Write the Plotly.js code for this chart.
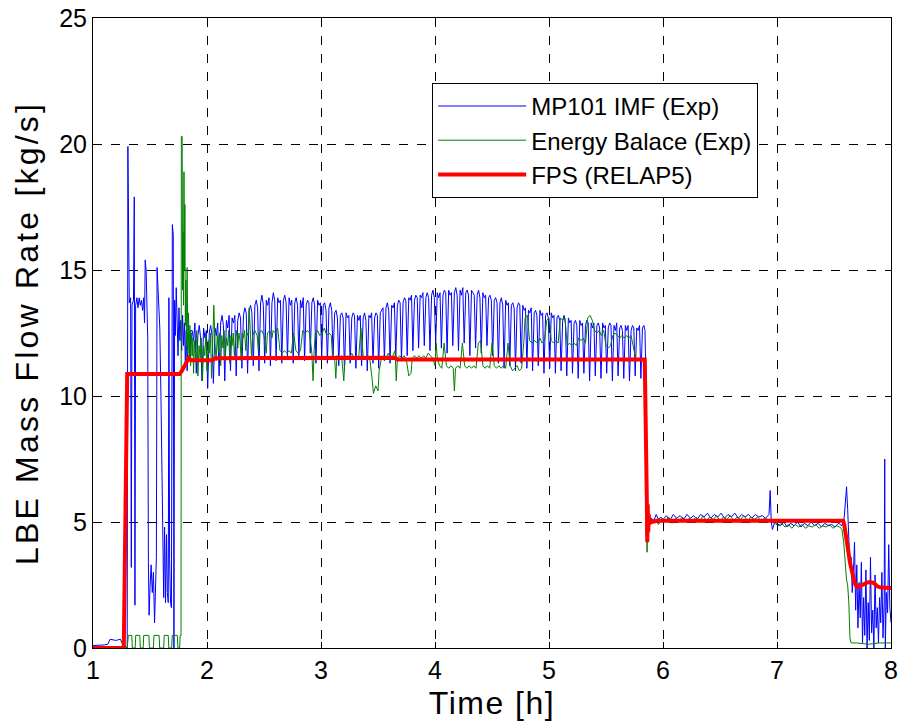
<!DOCTYPE html>
<html>
<head>
<meta charset="utf-8">
<script src="https://cdn.plot.ly/plotly-3.0.1.min.js"></script>
<style>
html,body{margin:0;padding:0;background:#fff;}
#chart{width:898px;height:724px;}
.ytitle{letter-spacing:3.2px;}
.xtitle{letter-spacing:1.5px;}
</style>
</head>
<body>
<div id="chart"></div>
<script>
// ---------- MP101 IMF (Exp) ----------
const blueStartT = [1.000,1.050,1.100,1.130,1.150,1.200,1.240,1.260,1.280,1.295];
const blueStartV = [0.1,0.1,0.12,0.15,0.35,0.3,0.35,0.15,0.1,0.0];

const blueRiseT = [1.300,1.306,1.312,1.318,1.330,1.336,1.342,1.355,1.362,1.368,
1.374,1.385,1.395,1.405,1.415,1.425,1.435,1.445,1.452,1.458,
1.466,1.474,1.480,1.486,1.492,1.500,1.510,1.520,1.530,1.540,
1.548,1.556,1.562,1.570,1.578,1.586,1.596,1.606,1.614,1.620,
1.628,1.636,1.645,1.652,1.660,1.666,1.672,1.680,1.688,1.696,
1.704,1.710,1.716,1.722,1.730,1.738,1.746,1.754,1.762,1.770,
1.778,1.786,1.794,1.802,1.810,1.818,1.826,1.834,1.842,1.850,1.858];
const blueRiseV = [0.0,19.9,15.0,13.7,13.9,3.2,13.6,13.8,17.9,1.7,
13.6,13.9,13.5,13.9,13.6,13.8,13.4,13.9,12.9,15.4,
15.0,12.5,12.3,3.4,1.3,2.4,3.3,2.2,3.0,1.0,
2.5,3.6,15.1,14.1,13.6,12.7,10.0,7.3,4.5,2.0,
4.8,1.8,4.5,2.2,1.8,13.9,3.5,1.8,1.6,16.8,
16.4,0.0,13.8,12.4,14.3,12.8,11.6,13.5,12.2,13.0,
11.8,13.2,12.0,12.9,11.3,12.6,11.0,12.5,12.3,11.4,12.6];

const bluePlateauT = [
1.870,1.882,1.894,1.906, 1.920,1.932,1.944,1.956, 1.970,1.982,1.994,2.006, 2.020,2.032,2.044,2.056, 2.070,2.082,2.094,2.106,
2.120,2.132,2.144,2.156, 2.170,2.182,2.194,2.206, 2.220,2.232,2.244,2.256, 2.270,2.282,2.294,2.306, 2.320,2.332,2.344,2.356,
2.370,2.382,2.394,2.406, 2.420,2.432,2.444,2.456, 2.470,2.482,2.494,2.506, 2.520,2.532,2.544,2.556, 2.570,2.582,2.594,2.606,
2.620,2.632,2.644,2.656, 2.670,2.682,2.694,2.706, 2.720,2.732,2.744,2.756, 2.770,2.782,2.794,2.806, 2.820,2.832,2.844,2.856,
2.870,2.882,2.894,2.906, 2.920,2.932,2.944,2.956, 2.970,2.982,2.994,3.006, 3.020,3.032,3.044,3.056, 3.070,3.082,3.094,3.106,
3.120,3.132,3.144,3.156, 3.170,3.182,3.194,3.206, 3.220,3.232,3.244,3.256, 3.270,3.282,3.294,3.306, 3.320,3.332,3.344,3.356,
3.370,3.382,3.394,3.406, 3.420,3.432,3.444,3.456, 3.470,3.482,3.494,3.506, 3.520,3.532,3.544,3.556, 3.570,3.582,3.594,3.606,
3.620,3.632,3.644,3.656, 3.670,3.682,3.694,3.706, 3.720,3.732,3.744,3.756, 3.770,3.782,3.794,3.806, 3.820,3.832,3.844,3.856,
3.870,3.882,3.894,3.906, 3.920,3.932,3.944,3.956, 3.970,3.982,3.994,4.006, 4.020,4.032,4.044,4.056, 4.070,4.082,4.094,4.106,
4.120,4.132,4.144,4.156, 4.170,4.182,4.194,4.206, 4.220,4.232,4.244,4.256, 4.270,4.282,4.294,4.306, 4.320,4.332,4.344,4.356,
4.370,4.382,4.394,4.406, 4.420,4.432,4.444,4.456, 4.470,4.482,4.494,4.506, 4.520,4.532,4.544,4.556, 4.570,4.582,4.594,4.606,
4.620,4.632,4.644,4.656, 4.670,4.682,4.694,4.706, 4.720,4.732,4.744,4.756, 4.770,4.782,4.794,4.806, 4.820,4.832,4.844,4.856,
4.870,4.882,4.894,4.906, 4.920,4.932,4.944,4.956, 4.970,4.982,4.994,5.006, 5.020,5.032,5.044,5.056, 5.070,5.082,5.094,5.106,
5.120,5.132,5.144,5.156, 5.170,5.182,5.194,5.206, 5.220,5.232,5.244,5.256, 5.270,5.282,5.294,5.306, 5.320,5.332,5.344,5.356,
5.370,5.382,5.394,5.406, 5.420,5.432,5.444,5.456, 5.470,5.482,5.494,5.506, 5.520,5.532,5.544,5.556, 5.570,5.582,5.594,5.606,
5.620,5.632,5.644,5.656, 5.670,5.682,5.694,5.706, 5.720,5.732,5.744,5.756, 5.770,5.782,5.794,5.806, 5.820,5.832,5.842,5.848];
const bluePlateauV = [
12.6,12.2,12.9,10.9, 12.4,12.8,12.3,10.6, 12.7,12.3,12.6,10.3, 12.5,12.8,12.4,10.5, 12.7,12.4,12.9,10.8,
12.9,13.2,12.8,10.6, 13.0,12.7,13.2,11.0, 13.1,12.9,13.2,10.8, 13.0,13.3,13.1,11.1, 13.2,13.5,13.3,10.9,
13.4,13.6,13.3,11.2, 13.6,13.8,13.5,11.0, 13.7,14.0,13.6,11.3, 13.8,13.6,13.9,11.2, 13.7,14.1,13.8,11.4,
13.9,13.7,13.8,11.3, 13.8,14.0,13.7,11.5, 13.9,13.6,13.8,11.3, 13.7,13.9,13.6,11.6, 13.8,13.5,13.9,11.4,
13.6,13.8,13.7,11.7, 13.7,13.9,13.6,11.3, 13.8,13.6,13.7,11.5, 13.6,13.7,13.4,11.3, 13.5,13.7,13.4,11.6,
13.3,13.4,13.1,11.2, 13.2,13.3,13.1,11.0, 13.3,13.1,13.2,11.3, 13.1,13.3,13.2,11.1, 13.2,13.0,13.2,11.2,
13.1,13.3,13.0,11.0, 13.2,13.1,13.3,11.3, 13.1,13.3,13.2,11.1, 13.3,13.4,13.5,11.4, 13.5,13.7,13.4,11.3,
13.6,13.5,13.7,11.5, 13.6,13.8,13.7,11.4, 13.7,13.9,13.8,11.6, 13.9,13.8,14.0,11.8, 13.8,14.0,13.9,11.9,
14.0,13.9,14.1,12.0, 13.9,14.1,13.9,11.8, 14.0,14.2,13.9,12.1, 14.1,13.9,14.1,11.9, 14.0,14.2,14.1,11.7,
14.2,14.0,14.1,12.0, 14.1,14.3,14.0,11.8, 14.2,14.0,14.3,12.1, 14.1,14.2,14.0,11.6, 14.2,14.1,14.0,11.9,
14.0,14.2,13.9,11.7, 14.1,13.9,14.0,12.0, 13.9,14.0,13.8,11.6, 13.8,13.9,13.7,11.3, 13.7,13.9,13.6,11.1,
13.8,13.6,13.7,11.2, 13.6,13.7,13.5,11.0, 13.5,13.7,13.6,11.3, 13.6,13.4,13.5,11.1, 13.4,13.3,13.5,11.0,
13.3,13.4,13.2,11.2, 13.4,13.2,13.3,10.9, 13.2,13.3,13.1,11.1, 13.3,13.1,13.2,10.9, 13.1,13.2,13.0,11.0,
13.0,13.2,12.9,10.8, 13.1,12.9,13.0,10.9, 12.9,13.0,12.8,10.7, 13.0,12.8,12.9,10.9, 12.8,13.0,12.9,10.6,
12.9,12.7,12.9,10.8, 12.8,12.9,12.7,10.7, 12.9,12.7,12.8,10.9, 12.7,12.9,12.8,10.6, 12.8,12.6,12.9,10.8,
12.7,12.8,12.6,10.7, 12.8,12.6,12.8,10.6, 12.6,12.8,12.7,10.8, 12.7,12.6,12.8,10.7, 12.7,12.8,12.6,11.2];

const blueLowT = [5.852,5.858,5.864,5.870,5.880,5.900,5.920,5.940,5.960,5.980,
6.000,6.030,6.060,6.090,6.120,6.150,6.180,6.210,6.240,6.270,
6.300,6.330,6.360,6.390,6.420,6.450,6.480,6.510,6.540,6.570,
6.600,6.630,6.660,6.690,6.720,6.750,6.780,6.810,6.840,6.870,
6.900,6.930,6.940,6.950,6.960,6.980,7.000,7.030,7.060,7.090,
7.120,7.150,7.180,7.210,7.240,7.270,7.300,7.330,7.360,7.390,
7.420,7.450,7.480,7.510,7.540,7.570];
const blueLowV = [4.5,5.6,4.9,5.3,5.0,5.15,5.05,5.3,5.1,5.2,
5.1,5.25,5.05,5.3,5.15,5.25,5.1,5.3,5.15,5.25,
5.1,5.3,5.2,5.35,5.15,5.3,5.2,5.35,5.15,5.3,
5.2,5.35,5.15,5.3,5.2,5.3,5.15,5.3,5.2,5.25,
5.15,5.3,6.25,5.0,4.7,5.0,4.95,4.85,5.0,4.8,
4.95,4.85,5.0,4.8,4.95,4.85,5.0,4.85,4.95,4.8,
4.95,4.85,4.9,4.8,4.95,4.85];

const blueEndT = [7.590,7.610,7.620,7.630,7.640,7.650,7.660,7.670,7.680,7.690,
7.700,7.710,7.720,7.730,7.740,7.750,7.760,7.770,7.780,7.790,
7.800,7.810,7.820,7.830,7.840,7.850,7.860,7.870,7.880,7.890,
7.900,7.910,7.920,7.930,7.940,7.945,7.950,7.960,7.970,7.980,7.990,8.000];
const blueEndV = [5.2,6.4,5.5,4.2,3.2,3.6,2.2,3.0,4.2,1.5,
3.3,0.8,2.6,1.2,3.4,0.2,2.0,0.5,3.1,0.0,
1.8,0.3,3.6,0.6,1.5,0.0,2.9,0.8,1.6,0.2,
2.0,1.0,3.0,0.4,1.8,7.5,0.0,2.2,1.4,4.1,1.6,1.0];

// ---------- Energy Balace (Exp) ----------
const greenStartT = [1.000,1.300,1.310,1.340,1.345,1.370,1.375,1.410,1.415,1.440,
1.445,1.490,1.495,1.530,1.535,1.580,1.585,1.620,1.625,1.660,
1.665,1.690,1.695,1.740,1.745,1.760,1.765,1.772,1.775,1.782,
1.786,1.790,1.794,1.798,1.802,1.806,1.810,1.815,1.820,1.826,
1.832,1.838,1.844,1.850,1.856,1.862];
const greenStartV = [0.0,0.0,0.5,0.5,0.0,0.0,0.5,0.5,0.0,0.0,
0.5,0.5,0.0,0.0,0.5,0.5,0.0,0.0,0.5,0.5,
0.0,0.0,0.5,0.5,0.0,0.0,0.5,0.5,20.3,20.3,
14.2,16.5,13.6,18.9,15.0,17.6,12.8,14.6,12.0,15.1,
11.7,13.3,11.5,12.8,11.2,12.5];

const greenPlateauT = [1.870,1.876,1.882,1.890,1.900,1.910,1.920,1.930,1.940,1.950,
1.960,1.970,1.980,1.990,2.000,2.010,2.020,2.030,2.040,2.050,
2.060,2.070,2.080,2.090,2.100,2.110,2.120,2.130,2.140,2.150,
2.160,2.170,2.180,2.190,2.200,2.210,2.220,2.230,2.240,2.250,
2.260,2.270,2.280,2.290,2.300,2.310,2.320,2.330,2.340,2.350,
2.360,2.370,2.380,2.390,2.400,2.420,2.440,2.450,2.460,2.480,
2.500,2.520,2.530,2.550,2.570,2.580,2.600,2.620,2.640,2.660,
2.680,2.700,2.720,2.740,2.760,2.780,2.800,2.820,2.840,2.860,
2.880,2.900,2.920,2.930,2.940,2.950,2.970,2.990,3.010,3.030,
3.050,3.070,3.090,3.100,3.120,3.130,3.140,3.160,3.180,3.200,
3.210,3.230,3.250,3.270,3.290,3.310,3.330,3.350,3.370,3.390,
3.410,3.430,3.450,3.460,3.480,3.500,3.510,3.530,3.550,3.570,
3.590,3.610,3.630,3.650,3.660,3.670,3.690,3.710,3.730,3.750,
3.770,3.790,3.800,3.820,3.840,3.860,3.880,3.900,3.920,3.940,
3.960,3.980,4.000,4.010,4.020,4.040,4.060,4.080,4.100,4.120,
4.140,4.160,4.170,4.180,4.200,4.220,4.240,4.260,4.280,4.300,
4.320,4.340,4.360,4.380,4.400,4.420,4.440,4.460,4.480,4.500,
4.520,4.540,4.560,4.580,4.600,4.620,4.640,4.660,4.680,4.700,
4.720,4.740,4.760,4.780,4.790,4.810,4.830,4.850,4.870,4.900,
4.920,4.940,4.960,4.980,5.000,5.020,5.040,5.060,5.080,5.100,
5.120,5.140,5.160,5.180,5.200,5.220,5.240,5.260,5.280,5.300,
5.320,5.340,5.360,5.380,5.400,5.420,5.440,5.460,5.480,5.500,
5.520,5.540,5.560,5.580,5.600,5.620,5.640,5.660,5.680,5.700,
5.720,5.740,5.760,5.780,5.800,5.820,5.840];
const greenPlateauV = [11.6,12.3,10.9,12.2,11.4,12.6,10.8,12.0,11.5,12.3,
10.6,12.0,11.6,12.4,11.0,12.2,11.7,12.5,10.7,12.3,
13.6,12.1,11.4,12.4,11.8,12.5,11.2,12.4,11.9,12.6,
11.5,12.3,12.0,12.6,11.3,12.4,12.0,12.5,11.6,12.3,
12.6,11.9,12.5,12.2,11.4,12.5,12.3,12.6,11.8,12.5,
12.4,13.5,12.5,11.6,12.4,12.6,12.4,11.8,12.5,12.6,
12.4,11.7,12.5,12.6,12.3,12.6,12.5,12.7,11.8,11.7,
11.8,11.7,11.8,11.7,12.5,11.8,11.7,11.8,12.6,12.5,
12.6,12.5,11.7,10.6,11.8,12.5,12.6,12.4,12.5,12.7,
12.4,12.5,12.4,11.6,11.5,10.7,11.6,11.5,11.6,10.6,
11.5,11.6,11.5,11.7,11.5,11.6,11.5,12.7,11.6,11.5,
11.6,11.4,10.6,10.1,10.4,10.2,11.0,11.5,11.6,11.5,
11.7,11.5,11.6,11.8,10.6,11.5,11.6,11.5,11.6,11.4,
10.8,10.9,11.5,11.6,11.5,11.6,11.5,11.6,11.5,11.7,
11.6,11.5,11.2,12.1,11.5,11.2,11.1,12.1,11.2,11.1,
11.2,11.1,10.2,11.1,11.2,11.1,12.1,11.2,11.1,11.2,
11.1,11.2,11.1,12.1,12.2,11.2,11.1,11.2,11.1,12.1,
11.2,11.1,11.2,11.1,11.2,11.1,12.1,11.2,11.0,11.1,
11.2,11.0,11.1,12.2,13.1,13.2,12.2,12.1,12.2,12.1,
12.3,12.1,12.2,13.0,13.1,12.2,12.1,12.2,12.1,13.1,
13.0,13.1,12.0,12.1,12.0,12.1,12.0,12.3,12.2,12.3,
12.1,13.1,13.2,13.0,12.6,12.5,12.6,12.4,12.6,12.0,
11.9,12.0,12.4,12.5,12.4,12.3,12.4,12.3,12.4,12.3,
12.4,11.9,11.5,11.4,11.5,11.4,11.5];

const greenLowT = [5.850,5.855,5.860,5.865,5.870,5.880,5.900,5.930,5.960,5.990,
6.020,6.050,6.080,6.110,6.140,6.170,6.200,6.230,6.260,6.290,
6.320,6.350,6.380,6.410,6.440,6.470,6.500,6.530,6.560,6.590,
6.620,6.650,6.680,6.710,6.740,6.770,6.800,6.830,6.860,6.890,
6.920,6.950,6.980,7.010,7.040,7.070,7.100,7.130,7.160,7.190,
7.220,7.250,7.280,7.310,7.340,7.370,7.400,7.430,7.460,7.490,
7.520,7.550,7.570,7.585,7.595,7.610,7.620,7.630,7.640,7.650,
7.700,7.800,7.900,8.000];
const greenLowV = [8.0,4.2,3.8,4.5,5.0,4.9,5.05,5.1,4.9,5.15,
5.05,5.2,4.95,5.15,5.05,5.2,5.0,5.15,5.05,5.2,
5.0,5.25,5.05,5.2,5.1,5.25,5.05,5.2,5.1,5.25,
5.05,5.2,5.1,5.25,5.05,5.2,5.1,5.2,5.05,5.15,
5.1,5.0,4.95,4.85,4.95,4.8,4.9,4.75,4.9,4.8,
4.9,4.75,4.85,4.8,4.9,4.75,4.85,4.8,4.9,4.75,
4.85,4.8,4.7,4.2,3.4,2.7,2.5,1.8,0.4,0.2,
0.2,0.15,0.2,0.2];

// ---------- FPS (RELAP5) ----------
const redT = [1.00,1.27,1.30,1.76,1.78,1.80,1.82,1.84,1.86,2.05,
2.07,3.10,3.65,3.67,5.84,5.858,5.862,5.866,5.870,5.875,
5.880,5.890,5.900,5.950,7.000,7.580,7.590,7.600,7.620,7.640,
7.660,7.680,7.700,7.730,7.760,7.790,7.820,7.850,7.880,7.910,
7.950,8.000];
const redV = [0,0,10.87,10.87,11.0,11.15,11.3,11.5,11.42,11.42,
11.5,11.5,11.52,11.45,11.45,5.9,4.2,5.7,4.6,5.3,
4.9,5.1,5.0,5.05,5.05,5.05,4.9,4.5,4.0,3.4,
3.0,2.6,2.42,2.45,2.52,2.6,2.62,2.58,2.45,2.4,
2.38,2.38];

const seriesNames = ['MP101 IMF (Exp)', 'Energy Balace (Exp)', 'FPS (RELAP5)'];
const xTicks = [1,2,3,4,5,6,7,8];
const yTicks = [0,5,10,15,20,25];

const blueT = [].concat(blueStartT, blueRiseT, bluePlateauT, blueLowT, blueEndT);
const blueV = [].concat(blueStartV, blueRiseV, bluePlateauV, blueLowV, blueEndV);
const greenT = [].concat(greenStartT, greenPlateauT, greenLowT);
const greenV = [].concat(greenStartV, greenPlateauV, greenLowV);

const font = 'Liberation Sans, Arial, sans-serif';

const traces = [
  {x: blueT, y: blueV, name: seriesNames[0], mode: 'lines', type: 'scatter',
   line: {color: '#0000ff', width: 1}, legendgroup: 'a'},
  {x: greenT, y: greenV, name: seriesNames[1], mode: 'lines', type: 'scatter',
   line: {color: '#008000', width: 1}, legendgroup: 'b'},
  {x: redT, y: redV, name: seriesNames[2], mode: 'lines', type: 'scatter',
   line: {color: '#ff0000', width: 4}, legendgroup: 'c'}
];

const axisCommon = {
  showline: true, linecolor: '#000', linewidth: 1, mirror: 'ticks',
  ticks: 'inside', ticklen: 6, tickcolor: '#000', tickwidth: 1,
  showgrid: true, gridcolor: '#000', gridwidth: 1, griddash: 'dash',
  zeroline: false, tickfont: {family: font, size: 25, color: '#000'}
};

const layout = {
  width: 898, height: 724,
  margin: {l: 93, r: 7, t: 18, b: 76},
  paper_bgcolor: '#fff', plot_bgcolor: '#fff',
  showlegend: true,
  font: {family: font, color: '#000'},
  xaxis: Object.assign({}, axisCommon, {
    range: [1, 8], tickvals: xTicks, ticktext: xTicks.map(String),
    title: {text: 'Time [h]', font: {family: font, size: 32, color: '#000'}, standoff: 8}
  }),
  yaxis: Object.assign({}, axisCommon, {
    range: [0, 25], tickvals: yTicks, ticktext: yTicks.map(String),
    title: {text: 'LBE Mass Flow Rate [kg/s]', font: {family: font, size: 32, color: '#000'}, standoff: 10}
  }),
  legend: {
    x: 0.425, y: 0.897, xanchor: 'left', yanchor: 'top',
    bordercolor: '#000', borderwidth: 1, bgcolor: '#fff',
    font: {family: font, size: 24, color: '#000'},
    itemwidth: 88,
    tracegroupgap: 4, traceorder: 'normal'
  }
};

Plotly.newPlot('chart', traces, layout, {displayModeBar: false, staticPlot: true});
</script>
</body>
</html>
